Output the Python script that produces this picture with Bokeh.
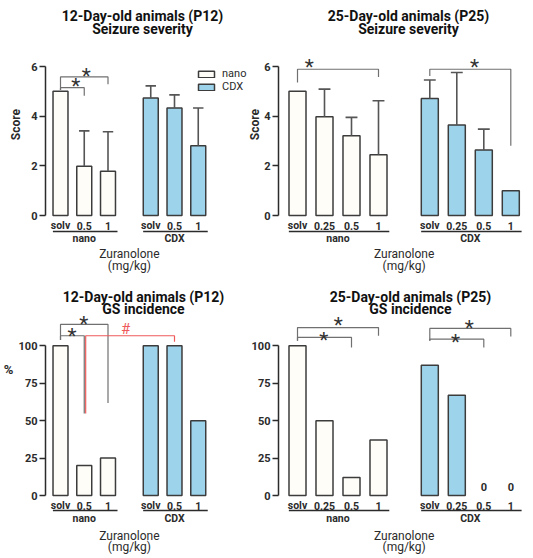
import numpy as np
from bokeh.plotting import figure
from bokeh.models import Range1d, FixedTicker, Legend, LegendItem, ColumnDataSource
from bokeh.layouts import row, column
from bokeh.embed import file_html
from bokeh.resources import INLINE
from bokeh.core.properties import value

# ---------------- data ----------------
groups = ["nano", "CDX"]
p12_doses = ["solv", "0.5", "1"]
p25_doses = ["solv", "0.25", "0.5", "1"]
x_label_lines = ["Zuranolone", "(mg/kg)"]

p12_score_nano = [5.0, 1.98, 1.78]
p12_score_nano_sd = [0.0, 1.43, 1.59]
p12_score_cdx = [4.73, 4.33, 2.81]
p12_score_cdx_sd = [0.49, 0.53, 1.52]

p25_score_nano = [5.0, 3.98, 3.21, 2.45]
p25_score_nano_sd = [0.0, 1.11, 0.74, 2.17]
p25_score_cdx = [4.71, 3.64, 2.64, 1.0]
p25_score_cdx_sd = [0.75, 2.12, 0.84, 0.0]

p12_gs_nano = [100, 20, 25]
p12_gs_cdx = [100, 100, 50]
p25_gs_nano = [100, 50, 12, 37]
p25_gs_cdx = [87, 67, 0, 0]

score_ticks = [0, 2, 4, 6]
pct_ticks = [0, 25, 50, 75, 100]

# significance brackets: (group, from dose, to dose, top, left end, right end)
tl_brackets = [("nano", 0, 2, 5.58, 5.05, 5.29), ("nano", 0, 1, 5.15, 5.05, 4.82)]
tl_marks = [("nano", 1.08, 5.82, "*"), ("nano", 0.64, 5.4, "*")]
tr_brackets = [("nano", 0, 3, 5.89, 5.36, 5.58), ("CDX", 0, 3, 5.89, 5.62, 2.81)]
tr_marks = [("nano", 0.44, 6.17, "*"), ("CDX", 1.66, 6.17, "*")]
bl_brackets = [("nano", 0, 2, 114.3, 103.8, 61.8), ("nano", 0, 1, 106.7, 103.8, 54.7)]
bl_marks = [("nano", 0.98, 117.8, "*"), ("nano", 0.49, 109.8, "*")]
bl_red_bracket = (("nano", 1), ("CDX", 1), 106.7, 54.7, 102.7)
bl_red_mark = ("nano", 2.74, 111.6, "#")
br_brackets = [("nano", 0, 3, 112.2, 103.3, 106.7), ("nano", 0, 2, 105.6, 103.3, 98.9),
               ("CDX", 0, 3, 111.6, 103.3, 106.2), ("CDX", 0, 2, 104.4, 103.3, 98.9)]
br_marks = [("nano", 1.51, 116.9, "*"), ("nano", 0.97, 106.9, "*"),
            ("CDX", 1.46, 115.2, "*"), ("CDX", 0.95, 105.9, "*")]

# ---------------- style ----------------
FONT = "Roboto"
DARK = "#2b2b2b"
BAR_LINE = "#3c3c3c"
ERR = "#555555"
BRK = "#707070"
RED = "#ef5b5b"
BLUE = "#9dd4ec"
WHITE = "#fffdf7"
BAR_W = 0.63


def add_text(p, xs, ys, texts, size, style="bold", color=DARK, y_offset=0, align="center", angle=0.0):
    src = ColumnDataSource(dict(x=list(xs), y=list(ys), text=list(texts)))
    p.text(x="x", y="y", text="text", source=src, text_font=value(FONT),
           text_font_size=size, text_font_style=style, text_color=color,
           text_align=align, text_baseline="middle", y_offset=y_offset, angle=angle)


def build(titles, doses, nano, nano_sd, cdx, cdx_sd, cdx_shift, geom, ylabel,
          ticks, ybounds, brackets, marks, legend=False, pct_label=None,
          red=None, zero_labels=False):
    (fig_w, fig_h, axis_px, first_px, xs_px, ys_px, zero_px,
     title_cx, title_ys, offs, ylab) = geom
    x0 = -(axis_px + first_px) / xs_px
    x1 = x0 + fig_w / xs_px
    y1 = zero_px / ys_px
    y0 = y1 - fig_h / ys_px

    def xd(px):
        return x0 + px / xs_px

    def yd(py):
        return y1 - py / ys_px

    p = figure(width=fig_w, height=fig_h, output_backend="svg", toolbar_location=None,
               x_range=Range1d(x0, x1), y_range=Range1d(y0, y1), title=None,
               x_axis_location=None, min_border_left=0, min_border_top=0,
               min_border_right=0, min_border_bottom=0)
    p.outline_line_color = None
    p.grid.visible = False
    p.background_fill_color = "white"
    p.border_fill_color = "white"

    n = len(doses)
    pos = {"nano": np.arange(n, dtype=float), "CDX": np.arange(n, dtype=float) + cdx_shift}

    ax = p.yaxis[0]
    ax.fixed_location = xd(axis_px)
    ax.bounds = ybounds
    ax.ticker = FixedTicker(ticks=ticks)
    ax.minor_tick_line_color = None
    ax.major_tick_in = 0
    ax.major_tick_out = 6
    ax.axis_line_width = 1.5
    ax.axis_line_color = DARK
    ax.major_tick_line_width = 1.5
    ax.major_tick_line_color = DARK
    ax.major_label_text_font = FONT
    ax.major_label_text_font_style = "bold"
    ax.major_label_text_font_size = "11px"
    ax.major_label_text_color = DARK
    ax.major_label_standoff = 2

    # titles
    for t, ty in zip(titles, title_ys):
        add_text(p, [xd(title_cx)], [yd(ty)], [t], "14px", color="#111111")

    # y label
    if ylabel:
        add_text(p, [xd(ylab[0])], [ylab[1]], [ylabel], "12px", angle=np.pi / 2)

    rends = {}
    for g, vals, sds, fill in (("nano", nano, nano_sd, WHITE), ("CDX", cdx, cdx_sd, BLUE)):
        v = np.asarray(vals, dtype=float)
        s = np.asarray(sds, dtype=float) if sds is not None else np.zeros(n)
        keep = v > 0
        rends[g] = p.vbar(x=pos[g][keep], top=v[keep], width=BAR_W, bottom=0,
                          fill_color=fill, line_color=BAR_LINE, line_width=1.5)
        e = s > 0
        if e.any():
            xe = pos[g][e]
            p.segment(x0=xe, y0=v[e], x1=xe, y1=v[e] + s[e], line_color=ERR, line_width=1.6)
            p.segment(x0=xe - 0.22, y0=v[e] + s[e], x1=xe + 0.22, y1=v[e] + s[e],
                      line_color=ERR, line_width=1.6)

    # dose labels, underline, group labels, x title
    sub_off, ul_off, grp_off, l1_off, l2_off = offs
    for g in groups:
        add_text(p, pos[g], [0] * n, doses, "10.5px", y_offset=sub_off)
        yul = -ul_off / ys_px
        p.segment(x0=[pos[g][0] - 0.32], y0=[yul], x1=[pos[g][-1] + 0.4], y1=[yul],
                  line_color=DARK, line_width=1.5)
        add_text(p, [pos[g].mean()], [0], [g], "10.5px", y_offset=grp_off)
    xc = (pos["nano"][0] + pos["CDX"][-1]) / 2
    add_text(p, [xc], [0], [x_label_lines[0]], "12px", style="normal", y_offset=l1_off)
    add_text(p, [xc], [0], [x_label_lines[1]], "12px", style="normal", y_offset=l2_off)

    # brackets
    bx, by = [], []
    for g, i0, i1, top, le, re in brackets:
        a, b = pos[g][i0], pos[g][i1]
        bx.append([a, a, b, b])
        by.append([le, top, top, re])
    p.multi_line(xs=bx, ys=by, line_color=BRK, line_width=1.2)
    mx = [pos[g][0] + dx for g, dx, _, _ in marks]
    my = [yy for _, _, yy, _ in marks]
    add_text(p, mx, my, [t for *_, t in marks], "21px", style="normal", color="#333333", y_offset=4.6)

    if red is not None:
        (ga, ia), (gb, ib), top, le, re = red[0]
        a, b = pos[ga][ia] + 0.06, pos[gb][ib]
        p.multi_line(xs=[[a, a, b, b]], ys=[[le, top, top, re]], line_color=RED, line_width=1.2)
        g, dx, yy, t = red[1]
        add_text(p, [pos[g][0] + dx], [yy], [t], "15px", style="normal", color=RED, y_offset=1)

    if zero_labels:
        zx = [pos["CDX"][i] for i, v in enumerate(cdx) if v == 0]
        add_text(p, zx, [0] * len(zx), ["0"] * len(zx), "11px", y_offset=-9)

    if legend:
        lg = Legend(items=[LegendItem(label="nano", renderers=[rends["nano"]]),
                           LegendItem(label="CDX", renderers=[rends["CDX"]])],
                    location=(196, 185), orientation="vertical")
        lg.glyph_width = 20
        lg.glyph_height = 8
        lg.label_height = 9
        lg.label_standoff = 6
        lg.spacing = -4
        lg.padding = 0
        lg.margin = 0
        lg.border_line_color = None
        lg.background_fill_alpha = 0
        lg.label_text_font = FONT
        lg.label_text_font_size = "11px"
        lg.label_text_color = DARK
        p.add_layout(lg, "center")

    if pct_label is not None:
        add_text(p, [xd(pct_label[0])], [pct_label[1]], ["%"], "13px")
    return p


top_offs = (10, 16, 23, 38, 50)
bot_offs = (10, 15, 23, 40, 51)
# geometry: fig_w, fig_h, y-axis px from fig left, first bar px right of axis,
#           x px/unit, y px/unit, zero px from fig top, title centre px, title line px,
#           x-text offsets, (y label px from fig left, y label data y)
g_tl = (248, 278, 45, 15, 23.75, 24.83, 215, 142, (15.5, 28.5), top_offs, (15, 3.66))
g_tr = (285, 278, 30, 19, 27.0, 24.83, 215, 160, (15.5, 28.5), top_offs, (6, 3.66))
g_bl = (248, 280, 45, 15, 23.75, 1.497, 217, 143, (18, 30), bot_offs, None)
g_br = (285, 280, 30, 19, 27.0, 1.497, 217, 162, (18, 30), bot_offs, None)

tl = build(["12-Day-old animals (P12)", "Seizure severity"], p12_doses, p12_score_nano, p12_score_nano_sd,
           p12_score_cdx, p12_score_cdx_sd, 3.8, g_tl, "Score", score_ticks, (0, 6),
           tl_brackets, tl_marks, legend=True)
tr = build(["25-Day-old animals (P25)", "Seizure severity"], p25_doses, p25_score_nano, p25_score_nano_sd,
           p25_score_cdx, p25_score_cdx_sd, 4.9, g_tr, "Score", score_ticks, (0, 6),
           tr_brackets, tr_marks)
bl = build(["12-Day-old animals (P12)", "GS incidence"], p12_doses, p12_gs_nano, None,
           p12_gs_cdx, None, 3.8, g_bl, None, pct_ticks, (0, 100),
           bl_brackets, bl_marks, pct_label=(8, 84), red=(bl_red_bracket, bl_red_mark))
br = build(["25-Day-old animals (P25)", "GS incidence"], p25_doses, p25_gs_nano, None,
           p25_gs_cdx, None, 4.9, g_br, None, pct_ticks, (0, 100),
           br_brackets, br_marks, zero_labels=True)

layout = column(row(tl, tr), row(bl, br))
open("out.html", "w").write(file_html(layout, INLINE))
